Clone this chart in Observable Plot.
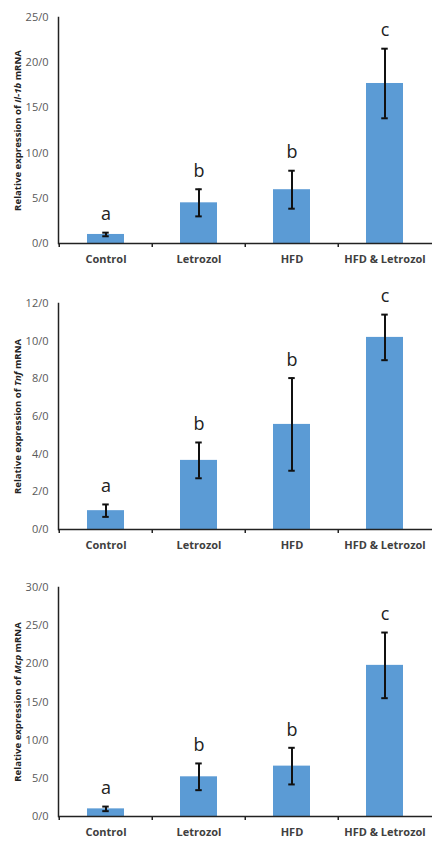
<!DOCTYPE html>
<html>
<head>
<meta charset="utf-8">
<script src="https://cdn.jsdelivr.net/npm/d3@7"></script>
<script src="https://cdn.jsdelivr.net/npm/@observablehq/plot@0.6"></script>
<style>
  html, body { margin: 0; padding: 0; background: #fff; }
  #charts svg { display: block; }
</style>
</head>
<body>
<div id="charts"></div>
<script>
const categories = ["Control", "Letrozol", "HFD", "HFD & Letrozol"];
const letters = ["a", "b", "b", "c"];

const il1bMean = [1.0, 4.5, 5.95, 17.7];
const il1bErr  = [0.2, 1.5, 2.1, 3.85];
const il1bTicks = [0, 5, 10, 15, 20, 25];

const tnfMean = [1.0, 3.67, 5.58, 10.2];
const tnfErr  = [0.33, 0.95, 2.46, 1.21];
const tnfTicks = [0, 2, 4, 6, 8, 10, 12];

const mcpMean = [1.0, 5.2, 6.6, 19.8];
const mcpErr  = [0.3, 1.75, 2.4, 4.3];
const mcpTicks = [0, 5, 10, 15, 20, 25, 30];

const panels = [
  {gene: "Il-1b", mean: il1bMean, err: il1bErr, ticks: il1bTicks, height: 280, marginTop: 17, marginBottom: 37},
  {gene: "Tnf",   mean: tnfMean,  err: tnfErr,  ticks: tnfTicks,  height: 280, marginTop: 23, marginBottom: 31},
  {gene: "Mcp",   mean: mcpMean,  err: mcpErr,  ticks: mcpTicks,  height: 281, marginTop: 27, marginBottom: 25}
];

const W = 432, ML = 58, MR = 0;
const step = (W - ML - MR) / categories.length;
const font = "'Open Sans', 'Noto Sans', sans-serif";

const container = document.getElementById("charts");

for (const p of panels) {
  const data = categories.map((c, i) => ({cat: c, v: p.mean[i], e: p.err[i], letter: letters[i]}));
  const top = p.ticks[p.ticks.length - 1];
  const titleKey = "@@ytitle@@";
  const svg = Plot.plot({
    width: W,
    height: p.height,
    marginLeft: ML,
    marginRight: MR,
    marginTop: p.marginTop,
    marginBottom: p.marginBottom,
    style: {fontFamily: font, background: "#fff"},
    x: {domain: categories, padding: 0, label: null},
    y: {domain: [0, top], ticks: p.ticks, label: null},
    marks: [
      Plot.barY(data, {x: "cat", y: "v", fill: "#5b9bd5", insetLeft: 28, insetRight: 28}),
      Plot.ruleX(data, {x: "cat", y1: d => d.v - d.e, y2: d => d.v + d.e, stroke: "#111", strokeWidth: 2}),
      Plot.tickY(data, {x: "cat", y: d => d.v + d.e, stroke: "#111", strokeWidth: 2, insetLeft: step / 2 - 3.5, insetRight: step / 2 - 3.5}),
      Plot.tickY(data, {x: "cat", y: d => d.v - d.e, stroke: "#111", strokeWidth: 2, insetLeft: step / 2 - 3.5, insetRight: step / 2 - 3.5}),
      Plot.text(data, {x: "cat", y: d => d.v + d.e, text: "letter", dy: -18, fontSize: 18, fill: "#222", lineAnchor: "middle"}),
      Plot.axisY({ticks: p.ticks, tickSize: 0, tickPadding: 10, tickFormat: d => `${d}/0`, fontSize: 11, fill: "#595959", label: null}),
      Plot.axisX({tickSize: 0, tickPadding: 12, fontSize: 11, fontWeight: "bold", fill: "#404040", label: null}),
      Plot.axisX({text: null, tickSize: 4, dx: -step / 2, stroke: "#222", strokeWidth: 1.5, label: null}),
      Plot.frame({anchor: "left", stroke: "#222", strokeWidth: 1.5}),
      Plot.ruleY([0], {stroke: "#222", strokeWidth: 1.5}),
      Plot.text([titleKey], {frameAnchor: "left", rotate: -90, dx: -41, text: d => d, fontSize: 9.6, fontWeight: "bold", fill: "#222", textAnchor: "middle", lineAnchor: "middle"})
    ]
  });
  d3.select(svg).selectAll("text").filter(function() { return this.textContent === titleKey; }).each(function() {
    const t = d3.select(this);
    t.text(null);
    t.append("tspan").text("Relative expression of ");
    t.append("tspan").attr("font-style", "italic").text(p.gene);
    t.append("tspan").text(" mRNA");
  });
  container.appendChild(svg);
}
</script>
</body>
</html>
